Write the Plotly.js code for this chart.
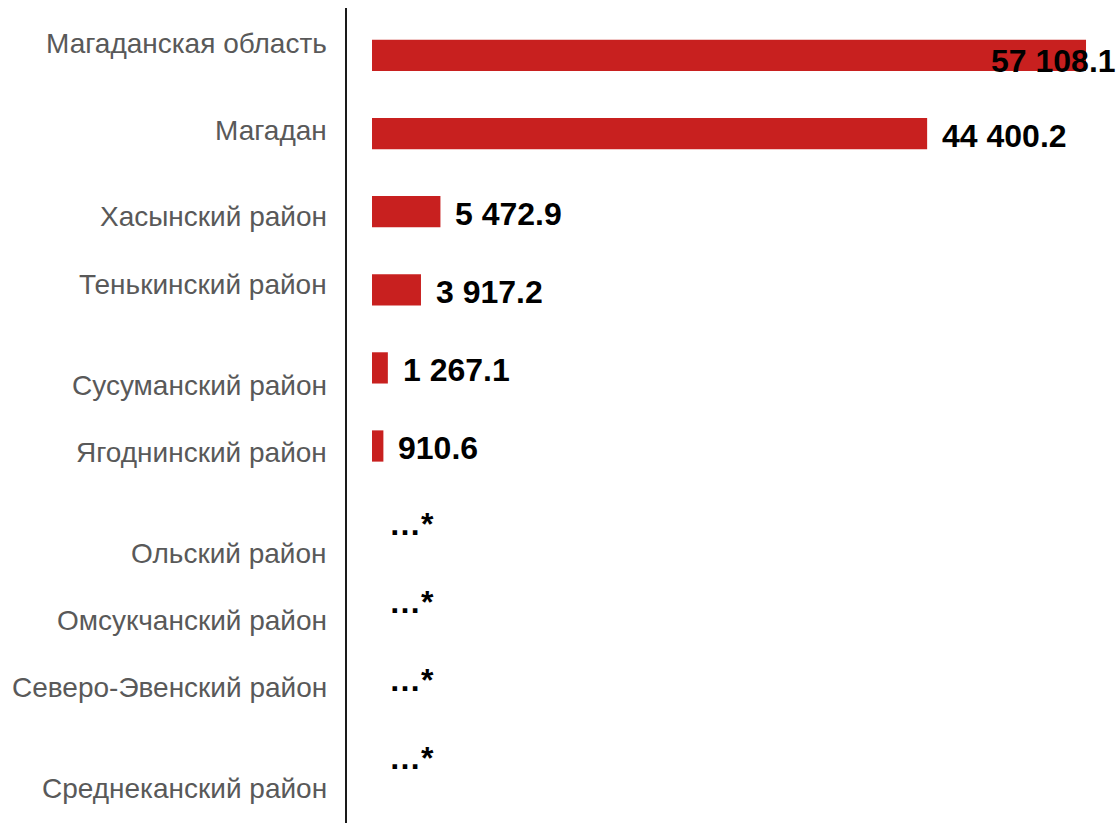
<!DOCTYPE html>
<html>
<head>
<meta charset="utf-8">
<script src="https://cdn.plot.ly/plotly-3.0.1.min.js"></script>
<style>
  html, body { margin: 0; padding: 0; background: #ffffff; }
  #chart { width: 1120px; height: 823px; }
</style>
</head>
<body>
<div id="chart"></div>
<script>
// ---- data ----
const categories = [
  "Магаданская область",
  "Магадан",
  "Хасынский район",
  "Тенькинский район",
  "Сусуманский район",
  "Ягоднинский район",
  "Ольский район",
  "Омсукчанский район",
  "Северо-Эвенский район",
  "Среднеканский район"
];
const values = [57108.1, 44400.2, 5472.9, 3917.2, 1267.1, 910.6, null, null, null, null];
const valueLabels = ["57 108.1", "44 400.2", "5 472.9", "3 917.2", "1 267.1", "910.6", "…*", "…*", "…*", "…*"];

// ---- styling (positions of labels, not data) ----
const catLabelShiftY = [11.5, 3.5, -5.2, 5.7, -17.5, -6, -29, -18.6, -7.5, -29.9];
const valLabelShiftX = [-96, 14, 14, 14, 14, 14, 16, 16, 16, 16];
const valLabelShiftY = [-6, -2, -2, -2, -2, -2, 0, 0, 0, 0];

const idx = categories.map((c, i) => i);

const trace = {
  type: "bar",
  orientation: "h",
  y: idx,
  x: values,
  width: 0.4,
  marker: { color: "#C8201F" },
  hoverinfo: "skip"
};

const annotations = [];
categories.forEach((c, i) => {
  annotations.push({
    xref: "paper", yref: "y",
    x: 0, y: i,
    xanchor: "right", yanchor: "middle",
    xshift: -18, yshift: catLabelShiftY[i],
    text: c, showarrow: false,
    font: { family: "Liberation Sans, Arial, sans-serif", size: 28, color: "#595959" }
  });
  annotations.push({
    xref: "x", yref: "y",
    x: values[i] == null ? 0 : values[i], y: i,
    xanchor: "left", yanchor: "middle",
    xshift: valLabelShiftX[i], yshift: valLabelShiftY[i],
    text: "<b>" + valueLabels[i] + "</b>", showarrow: false,
    borderpad: 0,
    font: { family: "Liberation Sans, Arial, sans-serif", size: 32, color: "#000000" }
  });
});

const layout = {
  width: 1120, height: 823,
  margin: { l: 347, r: 10, t: 8, b: 0, pad: 0 },
  paper_bgcolor: "#ffffff", plot_bgcolor: "#ffffff",
  showlegend: false,
  bargap: 0.6,
  xaxis: {
    range: [-2000, 59026],
    showgrid: false, zeroline: false, showline: false,
    showticklabels: false, ticks: ""
  },
  yaxis: {
    type: "linear",
    range: [9.827, -0.608],
    showgrid: false, zeroline: false,
    showline: true, linecolor: "#1a1a1a", linewidth: 2,
    showticklabels: false, ticks: ""
  },
  annotations: annotations
};

Plotly.newPlot("chart", [trace], layout, { staticPlot: true, displayModeBar: false });
</script>
</body>
</html>
